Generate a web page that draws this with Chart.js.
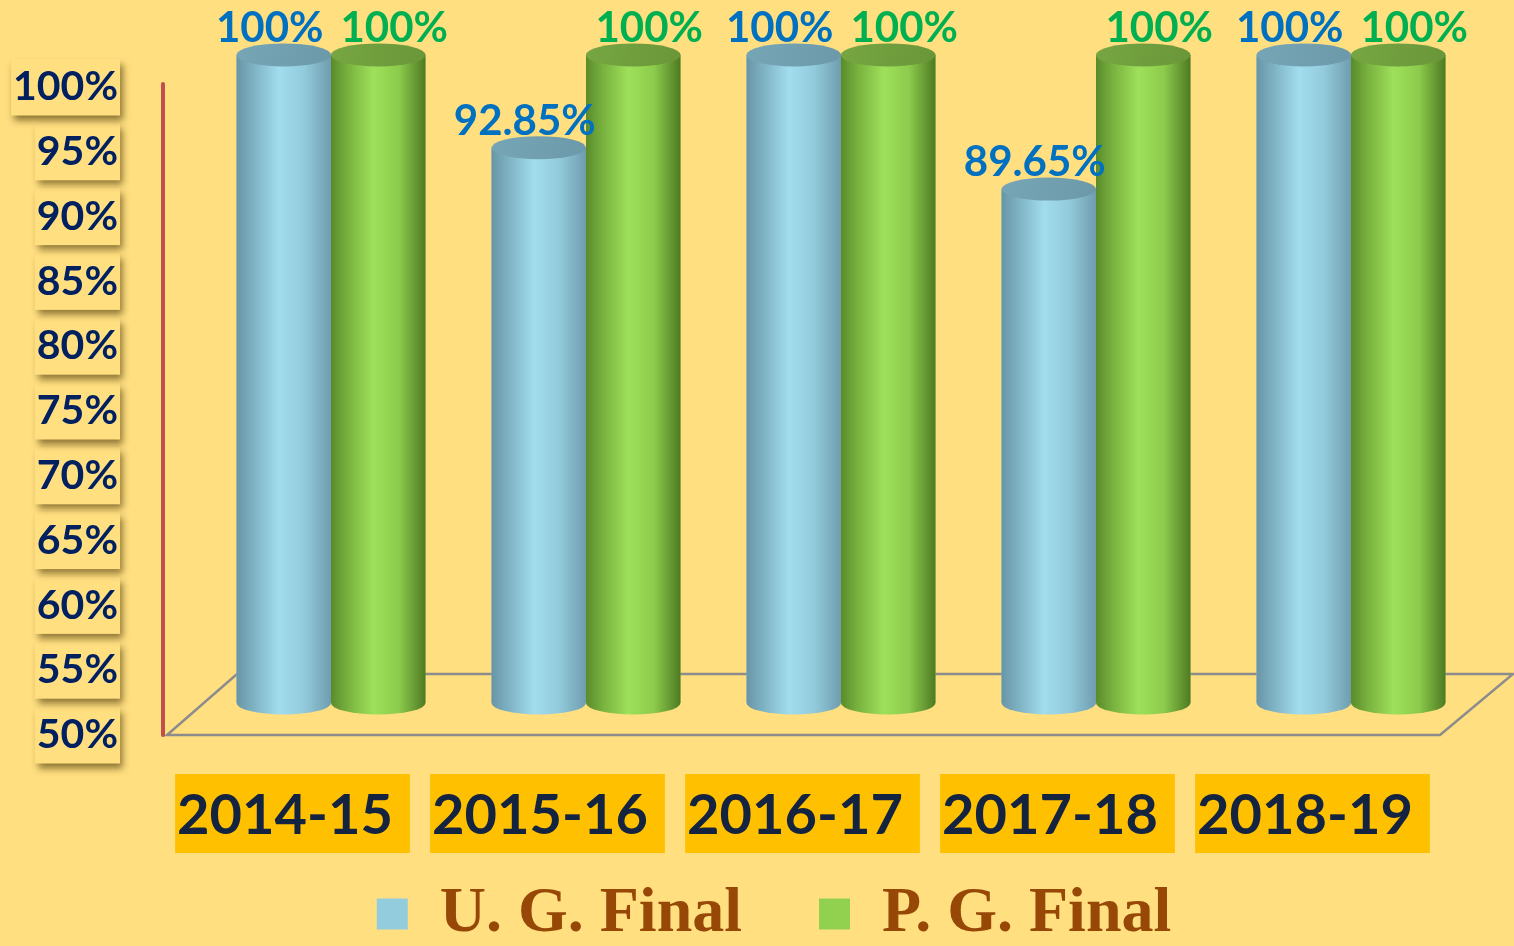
<!DOCTYPE html>
<html><head><meta charset="utf-8">
<script src="https://cdn.jsdelivr.net/npm/chart.js@4.4.0/dist/chart.umd.min.js"></script>
<style>html,body{margin:0;padding:0;background:#FFDF80;overflow:hidden}#wrap{width:1514px;height:946px;position:relative}</style>
</head><body><div id="wrap"><canvas id="c"></canvas></div>
<script>
const years = ['2014-15', '2015-16', '2016-17', '2017-18', '2018-19'];
const ugFinal = [100, 92.85, 100, 89.65, 100];
const pgFinal = [100, 100, 100, 100, 100];
const ugLabels = ['100%', '92.85%', '100%', '89.65%', '100%'];
const pgLabels = ['100%', '100%', '100%', '100%', '100%'];
const seriesNames = ['U. G. Final', 'P. G. Final'];

const STY = [
  {stops: [[0, '#6895A6'], [0.18, '#7EB2C3'], [0.45, '#A1DDEE'], [0.72, '#92CADB'], [1, '#6E9DAE']],
   top: ['#76A6B6', '#6C99A9'], label: '#0070C0', dx: -14},
  {stops: [[0, '#5A8B2B'], [0.18, '#79B23F'], [0.45, '#9EE05A'], [0.72, '#8CCB4C'], [1, '#4E7A22']],
   top: ['#76A642', '#6A9639'], label: '#00B050', dx: 16}
];
const RY = 11.5;

function drawCyl(ctx, x, top, bottom, w, s) {
  const rx = w / 2, left = x - rx;
  const g = ctx.createLinearGradient(left, 0, left + w, 0);
  s.stops.forEach(st => g.addColorStop(st[0], st[1]));
  ctx.beginPath();
  ctx.moveTo(left, top);
  ctx.lineTo(left, bottom);
  ctx.ellipse(x, bottom, rx, RY, 0, Math.PI, 0, true);
  ctx.lineTo(left + w, top);
  ctx.closePath();
  ctx.fillStyle = g;
  ctx.fill();
  const tg = ctx.createLinearGradient(left, top - RY, left + w, top + RY);
  tg.addColorStop(0, s.top[0]);
  tg.addColorStop(1, s.top[1]);
  ctx.beginPath();
  ctx.ellipse(x, top, rx, RY, 0, 0, Math.PI * 2);
  ctx.fillStyle = tg;
  ctx.fill();
}

const deco = {
  id: 'deco',
  beforeDraw(chart) {
    const ctx = chart.ctx, ys = chart.scales.y;
    ctx.save();
    ctx.font = 'bold 41px Lato';
    const textRight = ys.right - ys.options.ticks.padding;
    ys.ticks.forEach((t, i) => {
      const p = ys.getPixelForTick(i);
      const w = ctx.measureText(t.label).width;
      ctx.shadowColor = 'rgba(80,60,10,0.65)';
      ctx.shadowBlur = 7;
      ctx.shadowOffsetX = 3;
      ctx.shadowOffsetY = 5;
      ctx.fillStyle = '#FFDF80';
      ctx.fillRect(textRight - w - 2, p - 28.5, w + 4, 57);
    });
    ctx.restore();
  },
  beforeDatasetsDraw(chart) {
    const ctx = chart.ctx, ca = chart.chartArea;
    ctx.save();
    const backY = ca.bottom - 61;
    ctx.strokeStyle = '#8C8C8C';
    ctx.lineWidth = 2.5;
    ctx.beginPath();
    ctx.moveTo(ca.left + 9.5, ca.bottom);
    ctx.lineTo(ca.right + 7.5, ca.bottom);
    ctx.lineTo(ca.right + 80.5, backY);
    ctx.lineTo(ca.left + 79.5, backY);
    ctx.closePath();
    ctx.stroke();
    ctx.strokeStyle = '#C0504D';
    ctx.lineWidth = 4;
    ctx.lineCap = 'round';
    ctx.beginPath();
    ctx.moveTo(ca.left + 5.5, ca.top - 3);
    ctx.lineTo(ca.left + 5.5, ca.bottom);
    ctx.stroke();
    ctx.restore();
  },
  afterDatasetsDraw(chart) {
    const ctx = chart.ctx;
    const metas = [chart.getDatasetMeta(0), chart.getDatasetMeta(1)];
    const lbls = [ugLabels, pgLabels];
    ctx.save();
    for (let i = 0; i < years.length; i++) {
      metas.forEach((m, k) => {
        const p = m.data[i].getProps(['x', 'y', 'base', 'width'], true);
        drawCyl(ctx, p.x, p.y, p.base, p.width, STY[k]);
      });
    }
    ctx.font = 'bold 42px Lato';
    ctx.textAlign = 'center';
    ctx.textBaseline = 'alphabetic';
    for (let i = 0; i < years.length; i++) {
      metas.forEach((m, k) => {
        const p = m.data[i].getProps(['x', 'y'], true);
        ctx.fillStyle = STY[k].label;
        ctx.fillText(lbls[k][i], p.x + STY[k].dx, p.y - 13);
      });
    }
    ctx.restore();
  }
};

const hidePad = (s) => { s.paddingLeft = 0; s.paddingRight = 0; s.paddingTop = 0; s.paddingBottom = 0; };

new Chart(document.getElementById('c'), {
  type: 'bar',
  data: {
    labels: years,
    datasets: [
      {label: seriesNames[0], data: ugFinal.map((v, i) => ({x: i, y: v})), backgroundColor: '#93CDDD', borderWidth: 0,
       xAxisID: 'xb', yAxisID: 'yb', base: 50, clip: false, categoryPercentage: 0.741, barPercentage: 1},
      {label: seriesNames[1], data: pgFinal.map((v, i) => ({x: i, y: v})), backgroundColor: '#92D050', borderWidth: 0,
       xAxisID: 'xb', yAxisID: 'yb', base: 50, clip: false, categoryPercentage: 0.741, barPercentage: 1}
    ]
  },
  options: {
    animation: false,
    responsive: true,
    maintainAspectRatio: false,
    layout: {padding: {top: 87, left: 0, right: -34, bottom: -10}},
    plugins: {
      legend: {
        position: 'bottom',
        labels: {boxWidth: 31, boxHeight: 31, padding: 29, color: '#974806',
          font: {family: 'Liberation Serif', size: 64, weight: 'bold'},
          generateLabels(chart) {
            const items = Chart.defaults.plugins.legend.labels.generateLabels(chart);
            items.forEach((it, i) => { if (i < items.length - 1) it.text = it.text + '\u00A0\u00A0\u00A0'; });
            return items;
          }}
      },
      tooltip: {enabled: false}
    },
    scales: {
      x: {
        type: 'category', position: 'bottom', offset: true,
        grid: {display: false, drawTicks: false}, border: {display: false},
        afterFit(s) { s.height = 118; hidePad(s); },
        ticks: {
          autoSkip: false, maxRotation: 0, minRotation: 0, padding: 47,
          color: '#14233F', font: {family: 'Lato', size: 56, weight: 'bold'},
          showLabelBackdrop: true, backdropColor: '#FFC000',
          backdropPadding: {top: 8, bottom: 4, left: 2, right: 17}
        }
      },
      xb: {
        type: 'linear', display: false, offset: false, min: -0.6804, max: 4.3196,
        afterBuildTicks(s) { s.ticks = years.map((_, i) => ({value: i})); }
      },
      y: {
        type: 'linear', position: 'left', min: 50, max: 100,
        grid: {display: false, drawTicks: false}, border: {display: false},
        afterFit(s) { s.width = 157.5; hidePad(s); },
        ticks: {stepSize: 5, padding: 39.5, color: '#002060',
          font: {family: 'Lato', size: 41, weight: 'bold'}, callback: (v) => v + '%'}
      },
      yr: {
        type: 'linear', position: 'right', min: 0, max: 1,
        grid: {display: false, drawTicks: false}, border: {display: false},
        ticks: {display: false},
        afterFit(s) { s.width = 115.5; hidePad(s); }
      },
      yb: {type: 'linear', display: false, min: 47.53, max: 97.53}
    }
  },
  plugins: [deco]
});
</script>
</body></html>
